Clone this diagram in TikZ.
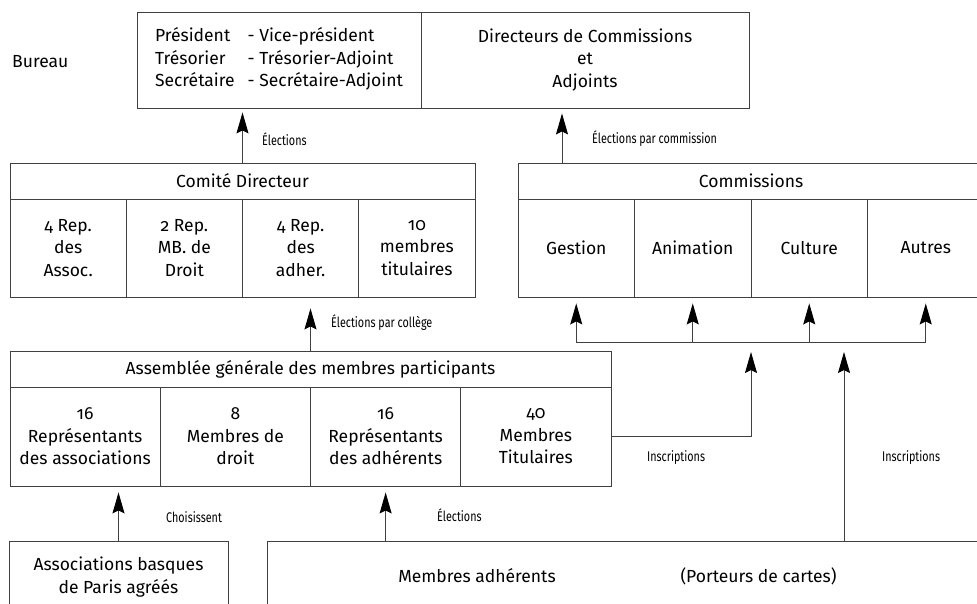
\documentclass[tikz,border=0pt]{standalone}
\usepackage{fontspec}
\setmainfont[Numbers=OldStyle]{Fira Sans}
\newfontfamily\labfont[Numbers=OldStyle,FakeStretch=0.77]{Fira Sans}
\usetikzlibrary{arrows.meta}
\begin{document}
\begin{tikzpicture}[x=1pt,y=-1pt,
	every node/.style={inner sep=0pt,font=\fontsize{17.5}{22.5}\selectfont},
	box/.style={draw=black!75,line width=0.9pt,align=center},
	lab/.style={anchor=west,font=\labfont\fontsize{14}{16}\selectfont},
	arr/.style={draw=black!75,line width=0.9pt,-{Stealth[length=21pt,width=12pt,inset=3pt,color=black]}}]
	\useasboundingbox (0,0) rectangle (977,604);
	\clip (0,0) rectangle (977,604);
	% Bureau
	\node[anchor=west] (bureau) at (12,62) {Bureau};
	\node[box,minimum width=284pt,minimum height=96pt] (bur) at (279,60)
		{\begin{tabular}{@{}l@{\hspace{13pt}}l@{}}Président & - Vice-président\\ Trésorier & - Trésorier-Adjoint\\ Secrétaire & - Secrétaire-Adjoint\end{tabular}};
	\node[box,minimum width=328pt,minimum height=96pt] (dir) at (585,60) {Directeurs de Commissions\\et\\Adjoints};
	% Comite directeur
	\node[box,minimum width=465pt,minimum height=36pt] (ct) at (242.5,181) {Comité Directeur};
	\foreach \i/\t in {1/{4 Rep.\\des\\Assoc.},2/{2 Rep.\\MB. de\\Droit},3/{4 Rep.\\des\\adher.},4/{10\\membres\\titulaires}}
		\node[box,minimum width=116.25pt,minimum height=98pt] (c\i) at ({10+116.25*(\i-0.5)},248) {\t};
	% Commissions
	\node[box,minimum width=466pt,minimum height=36pt] (cmt) at (751,181) {Commissions};
	\foreach \i/\t in {1/Gestion,2/Animation,3/Culture,4/Autres}
		\node[box,minimum width=116.5pt,minimum height=98pt] (g\i) at ({518+116.5*(\i-0.5)},248) {\t};
	% Assemblee generale
	\node[box,minimum width=601pt,minimum height=36pt] (ag) at (310.5,369) {Assemblée générale des membres participants};
	\foreach \i/\t in {1/{16\\Représentants\\des associations},2/{8\\Membres de\\droit},3/{16\\Représentants\\des adhérents},4/{40\\Membres\\Titulaires}}
		\node[box,minimum width=150.25pt,minimum height=99pt] (a\i) at ({10+150.25*(\i-0.5)},436.5) {\t};
	% bas
	\node[box,minimum width=219pt,minimum height=72pt] (assoc) at (118.5,577) {Associations basques\\de Paris agréés};
	\node[box,minimum width=723pt,minimum height=72pt] (memb) at (628.5,577) {};
	\node (madh) at (477,576) {Membres adhérents};
	\node (port) at (758.5,576) {(Porteurs de cartes)};
	% fleches
	\coordinate (bus) at (0,342);
	\coordinate (xc) at (562,0);
	\coordinate (xi) at (844,0);
	\draw[arr,shorten >=4pt] (ct.north) -- (ct.north |- bur.south);
	\draw[arr,shorten >=5pt] (cmt.north -| xc) -- (dir.south -| xc);
	\draw[arr,shorten >=11pt] (ag.north) -- (ag.north |- c3.south);
	\draw[arr,shorten >=6pt] (assoc.north) -- (assoc.north |- a1.south);
	\draw[arr,shorten >=6pt] (memb.north -| a3.south) -- (a3.south);
	\draw[draw=black!75,line width=0.9pt] (g1.south |- bus) -- (g4.south |- bus);
	\foreach \i in {1,...,4}
		\draw[arr,shorten >=6pt] (g\i.south |- bus) -- (g\i.south);
	\draw[arr,shorten >=10pt] (a4.east) -| (cmt.south |- bus);
	\draw[arr,shorten >=10pt] (memb.north -| xi) -- (bus -| xi);
	% etiquettes
	\node[lab] (l1) at (262,139) {Élections};
	\node[lab] (l2) at (592,139) {Élections par commission};
	\node[lab] (l3) at (331,323) {Élections par collège};
	\node[lab] (l4) at (166,517) {Choisissent};
	\node[lab] (l5) at (437,515) {Élections};
	\node[lab] (l6) at (647,458) {Inscriptions};
	\node[lab] (l7) at (882,458) {Inscriptions};
\end{tikzpicture}
\end{document}
